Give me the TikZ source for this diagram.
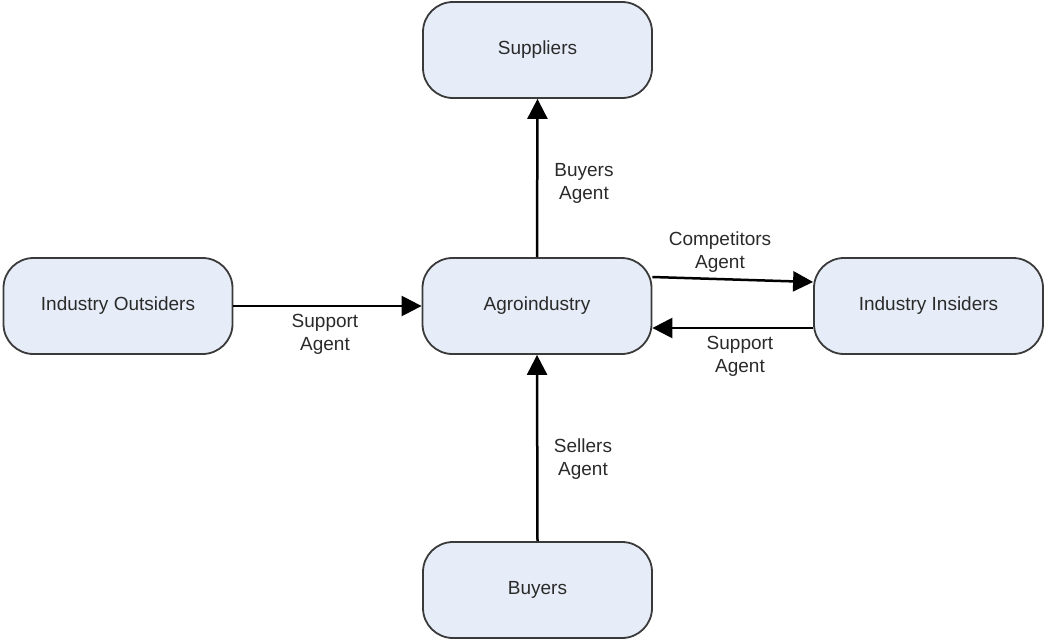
\documentclass[tikz,border=0pt]{standalone}
\usepackage{fontspec}
\setmainfont{Liberation Sans}
\usetikzlibrary{arrows.meta,calc}
\definecolor{boxfill}{HTML}{E7EDF8}
\definecolor{boxline}{HTML}{3A3A3A}
\definecolor{txt}{HTML}{2A2A2A}
\tikzset{
  entity/.style={draw=boxline, line width=1.8pt, fill=boxfill, rounded corners=30pt,
    minimum width=229pt, minimum height=96pt, inner sep=0pt, text=txt,
    font=\fontsize{19}{23}\selectfont},
  flow/.style={line width=2.5pt, draw=black, -{Triangle[length=20pt,width=20pt]}},
  tag/.style={align=center, text=txt, font=\fontsize{19}{23}\selectfont, inner sep=0pt}
}
\begin{document}
\begin{tikzpicture}[x=1pt,y=-1pt]
\useasboundingbox (0,0) rectangle (1045,640);
\node[entity] (sup) at (537.5,50) {Suppliers};
\node[entity] (agro) at (537,306) {Agroindustry};
\node[entity] (out) at (118,306) {Industry Outsiders};
\node[entity] (ins) at (928.5,306) {Industry Insiders};
\node[entity] (buy) at (537.5,590) {Buyers};

\draw[flow] (agro.north) -- (sup.south);
\draw[flow] (out.east) -- (agro.west);
\draw[flow] ($(agro.east)+(0,-29)$) -- ($(ins.west)+(0,-24)$);
\draw[flow] ($(ins.west)+(0,22)$) -- ($(agro.east)+(0,22)$);
\draw[flow] (buy.north) -- (agro.south);

\node[tag] (l1) at (584,183) {Buyers\\Agent};
\node[tag] (l2) at (720,252) {Competitors\\Agent};
\node[tag] (l3) at (740,356) {Support\\Agent};
\node[tag] (l4) at (325,334) {Support\\Agent};
\node[tag] (l5) at (583,459) {Sellers\\Agent};
\end{tikzpicture}
\end{document}
